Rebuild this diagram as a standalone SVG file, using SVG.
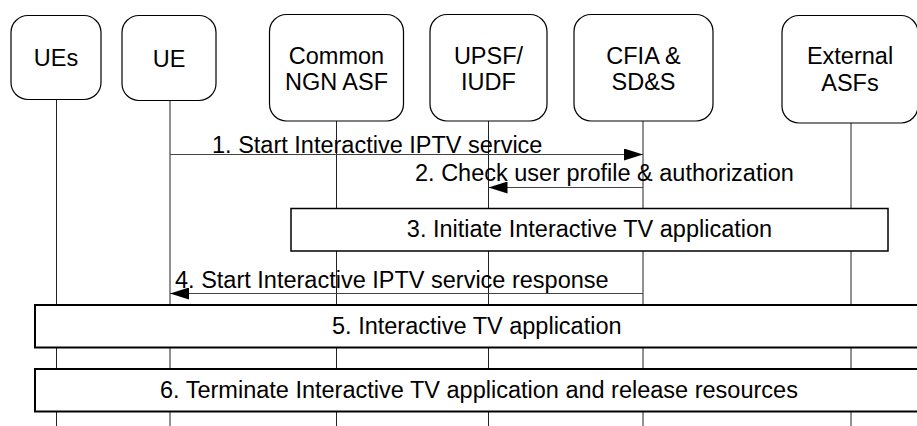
<svg xmlns="http://www.w3.org/2000/svg" width="917" height="426" viewBox="0 0 917 426">
  <style>
    text { font-family: "Liberation Sans", Arial, sans-serif; font-size: 23.5px; fill: #000; }
    .c { text-anchor: middle; }
    .node { fill: #fff; stroke: #000; stroke-width: 1.2; }
    .life { stroke: #222; stroke-width: 1; fill: none; }
    .msg { stroke: #444; stroke-width: 1.2; fill: none; marker-end: url(#arr); }
    .step { fill: #fff; stroke: #000; stroke-width: 1.5; }
    .step2 { fill: #fff; stroke: #000; stroke-width: 2; }
  </style>
  <defs>
    <marker id="arr" markerUnits="userSpaceOnUse" markerWidth="20" markerHeight="12" refX="19" refY="6" orient="auto">
      <path d="M0,0 L19,6 L0,12 z" fill="#000"/>
    </marker>
  </defs>
  <rect width="917" height="426" fill="#fff"/>

  <g id="node-ues">
    <line class="life" x1="56.5" y1="99" x2="56.5" y2="426"/>
    <rect class="node" x="11" y="15.5" width="90" height="84" rx="17"/>
    <text class="c" x="56" y="66">UEs</text>
  </g>
  <g id="node-ue">
    <line class="life" x1="170" y1="100" x2="170" y2="426"/>
    <rect class="node" x="122" y="15.5" width="94" height="85" rx="17"/>
    <text class="c" x="169" y="66.5">UE</text>
  </g>
  <g id="node-common-ngn-asf">
    <line class="life" x1="336.5" y1="121" x2="336.5" y2="426"/>
    <rect class="node" x="269.5" y="14.5" width="134" height="106.5" rx="17"/>
    <text class="c" x="336.5" y="63.5">Common</text>
    <text class="c" x="336.5" y="89.5">NGN ASF</text>
  </g>
  <g id="node-upsf-iudf">
    <line class="life" x1="488.5" y1="121" x2="488.5" y2="426"/>
    <rect class="node" x="430" y="14.5" width="117" height="106.5" rx="17"/>
    <text class="c" x="488.5" y="63.5">UPSF/</text>
    <text class="c" x="488.5" y="89.5">IUDF</text>
  </g>
  <g id="node-cfia-sds">
    <line class="life" x1="643" y1="121" x2="643" y2="426"/>
    <rect class="node" x="574" y="14.5" width="139" height="106.5" rx="17"/>
    <text class="c" x="643.5" y="63.5">CFIA &amp;</text>
    <text class="c" x="643.5" y="89.5">SD&amp;S</text>
  </g>
  <g id="node-external-asfs">
    <line class="life" x1="851" y1="123" x2="851" y2="426"/>
    <rect class="node" x="782" y="15.5" width="136" height="107.5" rx="17"/>
    <text class="c" x="850" y="64">External</text>
    <text class="c" x="850" y="91">ASFs</text>
  </g>

  <g id="connectors">
    <line class="msg" x1="170" y1="154.5" x2="643" y2="154.5"/>
    <line class="msg" x1="643" y1="187.5" x2="488.5" y2="187.5"/>
    <line class="msg" x1="643" y1="293.5" x2="170" y2="293.5"/>
  </g>
  <g id="labels">
    <text x="212" y="153">1. Start Interactive IPTV service</text>
    <text x="415" y="181">2. Check user profile &amp; authorization</text>
    <text x="175" y="288">4. Start Interactive IPTV service response</text>
  </g>

  <g id="step3">
    <rect class="step" x="291" y="208.5" width="597" height="42.5"/>
    <text class="c" x="589.5" y="236.5">3. Initiate Interactive TV application</text>
  </g>
  <g id="step5">
    <rect class="step2" x="35" y="305" width="890" height="42.5"/>
    <text x="332" y="334">5. Interactive TV application</text>
  </g>
  <g id="step6">
    <rect class="step2" x="35" y="369" width="890" height="42.5"/>
    <text x="160" y="398">6. Terminate Interactive TV application and release resources</text>
  </g>
</svg>
